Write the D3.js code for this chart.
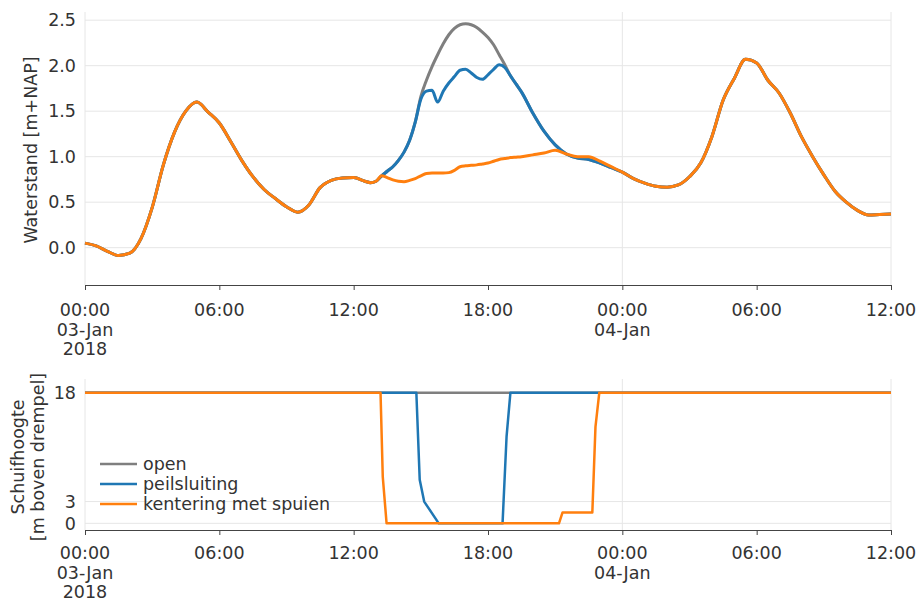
<!DOCTYPE html>
<html>
<head>
<meta charset="utf-8">
<script src="https://cdn.jsdelivr.net/npm/d3@7"></script>
<style>
  body { margin: 0; background: #fff; }
  text { font-family: "DejaVu Sans", Verdana, sans-serif; fill: #333; }
</style>
</head>
<body>
<svg id="chart"></svg>
<script>
// time in hours since 03-Jan-2018 00:00
const hours = [
  0, 0.5, 1, 1.5, 2, 2.5, 3, 3.5, 4, 4.5, 5, 5.5, 6, 6.5, 7, 7.5, 8, 8.5, 9, 9.5, 10, 10.5, 11, 11.5, 12,
  12.5, 12.75, 13, 13.25, 13.5, 13.75, 14, 14.25, 14.5, 14.75, 15, 15.25, 15.5, 15.75, 16, 16.25, 16.5, 16.75,
  17, 17.25, 17.5, 17.75, 18, 18.25, 18.5, 18.75, 19, 19.25, 19.5,
  20, 20.5, 21, 21.5, 22, 22.5, 23, 23.5, 24, 24.5, 25, 25.5, 26, 26.5, 27, 27.5, 28, 28.5, 29, 29.5,
  30, 30.5, 31, 31.5, 32, 32.5, 33, 33.5, 34, 34.5, 35, 35.5, 36
];

// waterstand [m+NAP]
const openLevel = [
  0.05, 0.02, -0.04, -0.085, -0.06, 0.10, 0.44, 0.91, 1.27, 1.50, 1.60, 1.49, 1.37, 1.17, 0.96, 0.78, 0.64, 0.54, 0.45, 0.39, 0.47, 0.66, 0.74, 0.765, 0.77,
  0.73, 0.715, 0.73, 0.79, 0.84, 0.89, 0.96, 1.05, 1.18, 1.38, 1.66, 1.84, 1.99, 2.12, 2.24, 2.34, 2.41, 2.45,
  2.46, 2.45, 2.42, 2.37, 2.31, 2.23, 2.12, 2.01, 1.89, 1.80, 1.71,
  1.48, 1.28, 1.13, 1.03, 0.985, 0.97, 0.93, 0.88, 0.83, 0.76, 0.71, 0.675, 0.665, 0.69, 0.78, 0.93, 1.22, 1.62, 1.86, 2.07,
  2.03, 1.84, 1.70, 1.48, 1.22, 1.00, 0.80, 0.62, 0.50, 0.41, 0.36, 0.365, 0.37
];
const peilLevel = [
  0.05, 0.02, -0.04, -0.085, -0.06, 0.10, 0.44, 0.91, 1.27, 1.50, 1.60, 1.49, 1.37, 1.17, 0.96, 0.78, 0.64, 0.54, 0.45, 0.39, 0.47, 0.66, 0.74, 0.765, 0.77,
  0.73, 0.715, 0.73, 0.79, 0.84, 0.89, 0.96, 1.05, 1.18, 1.38, 1.63, 1.72, 1.73, 1.60, 1.72, 1.81, 1.88, 1.95,
  1.96, 1.92, 1.87, 1.85, 1.90, 1.96, 2.01, 1.98, 1.89, 1.80, 1.71,
  1.48, 1.28, 1.13, 1.03, 0.985, 0.97, 0.93, 0.88, 0.83, 0.76, 0.71, 0.675, 0.665, 0.69, 0.78, 0.93, 1.22, 1.62, 1.86, 2.07,
  2.03, 1.84, 1.70, 1.48, 1.22, 1.00, 0.80, 0.62, 0.50, 0.41, 0.36, 0.365, 0.37
];
const kentLevel = [
  0.05, 0.02, -0.04, -0.085, -0.06, 0.10, 0.44, 0.91, 1.27, 1.50, 1.60, 1.49, 1.37, 1.17, 0.96, 0.78, 0.64, 0.54, 0.45, 0.39, 0.47, 0.66, 0.74, 0.765, 0.77,
  0.73, 0.715, 0.73, 0.79, 0.77, 0.745, 0.73, 0.725, 0.74, 0.76, 0.79, 0.815, 0.82, 0.82, 0.82, 0.825, 0.85, 0.89,
  0.90, 0.905, 0.91, 0.92, 0.93, 0.95, 0.97, 0.98, 0.99, 0.995, 1.00,
  1.02, 1.04, 1.07, 1.03, 1.00, 1.00, 0.95, 0.89, 0.83, 0.76, 0.71, 0.675, 0.665, 0.69, 0.78, 0.93, 1.22, 1.62, 1.86, 2.07,
  2.03, 1.84, 1.70, 1.48, 1.22, 1.00, 0.80, 0.62, 0.50, 0.41, 0.36, 0.365, 0.37
];

// schuifhoogte [m boven drempel]
const openGateHours = [0, 36];
const openGate = [18, 18];
const peilGateHours = [0, 14.8, 14.95, 15.15, 15.8, 18.65, 18.83, 19.0, 36];
const peilGate = [18, 18, 6, 3, 0, 0, 12, 18, 18];
const kentGateHours = [0, 13.2, 13.3, 13.47, 21.17, 21.33, 22.66, 22.8, 22.97, 36];
const kentGate = [18, 18, 6.4, 0, 0, 1.5, 1.5, 13.3, 18, 18];

const seriesNames = ["open", "peilsluiting", "kentering met spuien"];
const tickHours = [0, 6, 12, 18, 24, 30, 36];
const tickLabels = [["00:00", "03-Jan", "2018"], ["06:00"], ["12:00"], ["18:00"], ["00:00", "04-Jan"], ["06:00"], ["12:00"]];
const levelTicks = [0, 0.5, 1, 1.5, 2, 2.5];
const gateTicks = [0, 3, 18];

const GREY = "#7f7f7f";
const BLUE = "#1f77b4";
const ORANGE = "#ff7f0e";
const colors = [GREY, BLUE, ORANGE];
const FONT = "17.5px";

const svg = d3.select("#chart").attr("width", 924).attr("height", 599);

const x = d3.scaleLinear().domain([0, 36]).range([85, 891]);
const yTop = d3.scaleLinear().domain([-0.41, 2.59]).range([285, 12]);
const yBot = d3.scaleLinear().domain([-0.92, 19.9]).range([530, 379]);

function drawPanel(y, yTicks, axisY, labelBase, fmt) {
    const g = svg.append("g");
    // horizontal grid
    g.selectAll(".hgrid").data(yTicks).enter().append("line")
        .attr("x1", x(0)).attr("x2", x(36))
        .attr("y1", d => y(d)).attr("y2", d => y(d))
        .attr("stroke", "#e6e6e6").attr("stroke-width", 1);
    // vertical grid
    g.selectAll(".vgrid").data([0, 24, 36]).enter().append("line")
        .attr("x1", d => x(d)).attr("x2", d => x(d))
        .attr("y1", y.range()[1]).attr("y2", y.range()[0])
        .attr("stroke", "#e6e6e6").attr("stroke-width", 1);
    // y tick labels
    g.selectAll(".ylab").data(yTicks).enter().append("text")
        .attr("x", 76).attr("y", d => y(d)).attr("dy", "0.36em")
        .attr("text-anchor", "end").style("font-size", FONT)
        .text(fmt);
    // x axis
    const ax = g.append("g").attr("transform", `translate(0,${axisY})`)
        .call(d3.axisBottom(x).tickValues(tickHours).tickSize(5).tickSizeOuter(0).tickFormat(""));
    ax.select(".domain").attr("stroke", "#444");
    ax.selectAll(".tick line").attr("stroke", "#444");
    const lab = g.selectAll(".xlab").data(tickHours).enter().append("text")
        .attr("x", d => x(d)).attr("y", labelBase)
        .attr("text-anchor", "middle").style("font-size", FONT);
    lab.each(function(d, i) {
        const t = d3.select(this);
        tickLabels[i].forEach((s, j) => {
            t.append("tspan").attr("x", x(d)).attr("dy", j === 0 ? 0 : 19.5).text(s);
        });
    });
    return g;
}

drawPanel(yTop, levelTicks, 285, 316, d => d.toFixed(1));
drawPanel(yBot, gateTicks, 530, 559, d => d);

// water level lines
const levelLine = d3.line().x((d, i) => x(hours[i])).y(d => yTop(d)).curve(d3.curveMonotoneX);
[openLevel, peilLevel, kentLevel].forEach((vals, k) => {
    svg.append("path").datum(vals)
        .attr("d", levelLine)
        .attr("fill", "none").attr("stroke", colors[k])
        .attr("stroke-width", 3).attr("stroke-linejoin", "round");
});

// gate height lines
const gateSets = [[openGateHours, openGate], [peilGateHours, peilGate], [kentGateHours, kentGate]];
gateSets.forEach(([hs, vals], k) => {
    const line = d3.line().x((d, i) => x(hs[i])).y(d => yBot(d));
    svg.append("path").datum(vals)
        .attr("d", line)
        .attr("fill", "none").attr("stroke", colors[k])
        .attr("stroke-width", 2.5).attr("stroke-linejoin", "round");
});

// axis titles
svg.append("text")
    .attr("transform", "translate(37,150) rotate(-90)")
    .attr("text-anchor", "middle").style("font-size", FONT)
    .text("Waterstand [m+NAP]");
const t2 = svg.append("text")
    .attr("transform", "translate(24,457) rotate(-90)")
    .attr("text-anchor", "middle").style("font-size", FONT);
t2.append("tspan").attr("x", 0).attr("dy", 0).text("Schuifhoogte");
t2.append("tspan").attr("x", 0).attr("dy", 20).text("[m boven drempel]");

// legend
const legend = svg.append("g");
seriesNames.forEach((name, i) => {
    const ly = 464 + i * 20;
    legend.append("line")
        .attr("x1", 100).attr("x2", 137).attr("y1", ly).attr("y2", ly)
        .attr("stroke", colors[i]).attr("stroke-width", 2.5);
    legend.append("text")
        .attr("x", 143).attr("y", ly).attr("dy", "0.36em")
        .style("font-size", FONT)
        .text(name);
});
</script>
</body>
</html>
